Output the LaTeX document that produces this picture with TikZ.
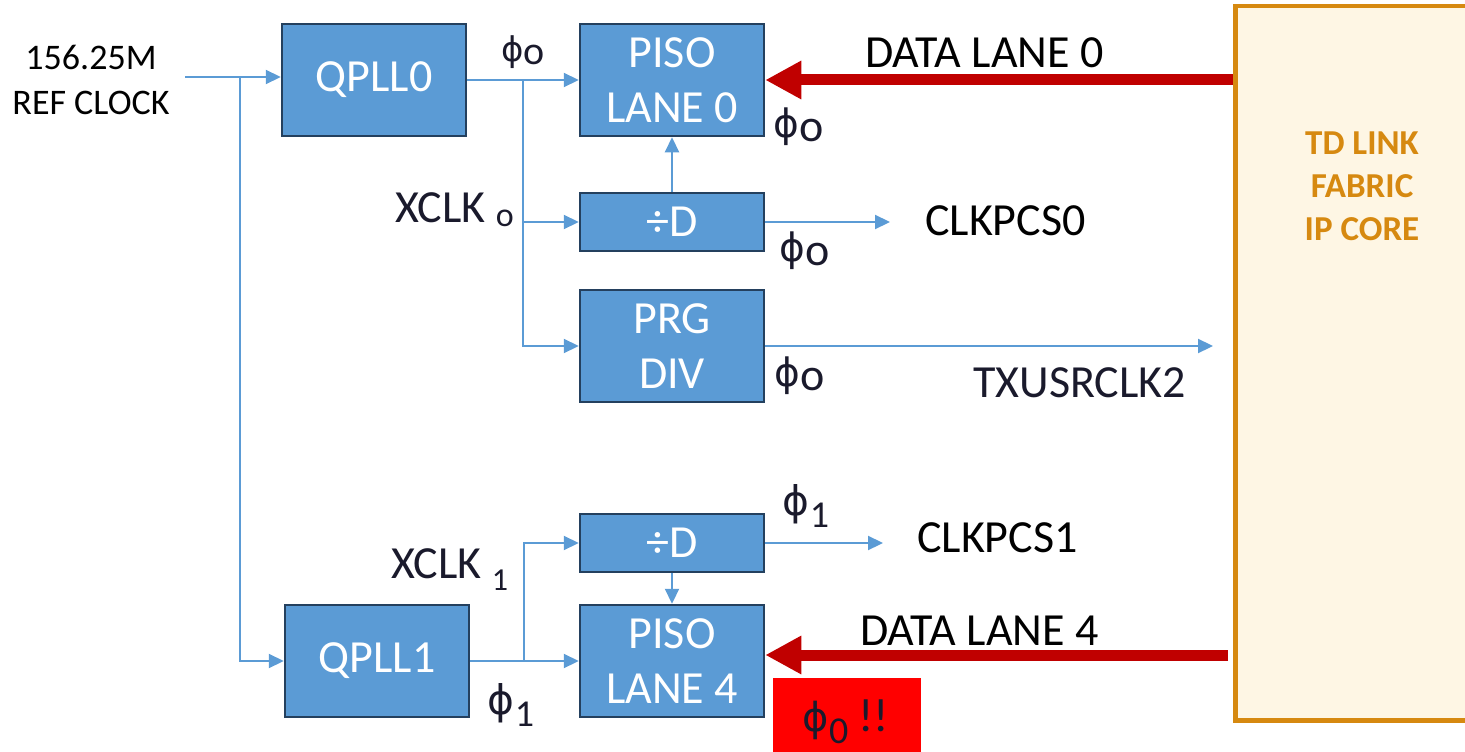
\documentclass[tikz,border=0pt]{standalone}
\usepackage{fontspec}
\setmainfont{Carlito}
\newfontfamily\phifont{DejaVu Sans}[Scale=0.85]
\usetikzlibrary{arrows.meta}
\definecolor{boxblue}{HTML}{5B9BD5}
\definecolor{boxedge}{HTML}{24405E}
\definecolor{wireblue}{HTML}{5B9BD5}
\definecolor{datared}{HTML}{C00000}
\definecolor{coreedge}{HTML}{D68910}
\definecolor{corefill}{HTML}{FEF6E4}
\definecolor{ink}{HTML}{1A1A2C}
\definecolor{alertred}{HTML}{FF0000}
\newcommand\fsz[2]{\fontsize{#1}{#2}\selectfont}
\newcommand\phig{{\phifont ϕ}}
\begin{document}
\begin{tikzpicture}[x=1pt,y=-1pt,
  blk/.style={draw=boxedge, line width=2.5pt, fill=boxblue, text=white,
    minimum width=184pt, align=center, inner sep=0pt, font=\fsz{46}{55}},
  tallblk/.style={blk, minimum height=112pt},
  shortblk/.style={blk, minimum height=58pt},
  wire/.style={draw=wireblue, line width=2.2pt, -{Triangle[length=15pt,width=14pt]}},
  dataarrow/.style={draw=datared, line width=11pt, -{Triangle[length=36pt,width=36pt]}},
  lbl/.style={inner sep=0pt, font=\fsz{46}{55}},
  phase/.style={inner sep=0pt, text=ink, font=\fsz{46}{46}},
  coretext/.style={inner sep=0pt, align=center, text=coreedge, font=\fsz{35}{43}\bfseries}
]
\useasboundingbox (0,0) rectangle (1465,752);

% IP core on the right, running off the edge
\node[draw=coreedge, fill=corefill, line width=4.5pt, minimum width=260pt,
      minimum height=714pt, anchor=north west, inner sep=0pt] (core) at (1233,4) {};
\node[coretext] (corelabel) at (1362,186) {TD LINK\\FABRIC\\IP CORE};

% blocks
\node[tallblk]  (qpll0) at (374,80)  {QPLL0};
\node[tallblk]  (piso0) at (672,80)  {PISO\\LANE 0};
\node[shortblk] (d0)    at (672,222) {÷D};
\node[tallblk]  (prg)   at (672,346) {PRG\\DIV};
\node[shortblk] (d1)    at (672,543) {÷D};
\node[tallblk]  (piso4) at (672,661) {PISO\\LANE 4};
\node[tallblk]  (qpll1) at (377,661) {QPLL1};

% reference clock distribution
\node[lbl, align=center, font=\fsz{36}{45}] (refclk) at (91,80) {156.25M\\REF CLOCK};
\coordinate (refin) at (185,77);
\coordinate (jref) at (240,77);
\draw[wire] (refin) -- (refin -| qpll0.west);
\draw[wire] (jref) |- (qpll1.west);

% lane 0 clocking
\coordinate (j0) at (523,80);
\draw[wire] (qpll0.east) -- (piso0.west);
\draw[wire] (j0) |- (d0.west);
\draw[wire] (j0) |- (prg.west);
\draw[wire] (d0.north) -- (piso0.south);
\coordinate (clk0end) at (890,222);
\draw[wire] (d0.east) -- (clk0end);
\coordinate (usrend) at (1213,346);
\draw[wire] (prg.east) -- (usrend);

% lane 4 clocking
\coordinate (j1) at (524,661);
\draw[wire] (qpll1.east) -- (piso4.west);
\draw[wire] (j1) |- (d1.west);
\draw[wire] (d1.south) -- (piso4.north);
\coordinate (clk1end) at (883,543);
\draw[wire] (d1.east) -- (clk1end);

% data from the fabric
\coordinate (d0src) at (1233,80);
\draw[dataarrow] (d0src) -- (piso0.east);
\coordinate (d4src) at (1228,655);
\draw[dataarrow] (d4src) -- (d4src -| piso4.east);

% signal names
\node[lbl, anchor=base west] (dl0) at (865,68) {DATA LANE 0};
\node[lbl, anchor=base west] (dl4) at (860,645) {DATA LANE 4};
\node[lbl, anchor=base west] (cp0) at (925,235) {CLKPCS0};
\node[lbl, anchor=base west] (cp1) at (917,552) {CLKPCS1};
\node[lbl, anchor=base west, text=ink] (usr) at (973,397) {TXUSRCLK2};
\node[lbl, anchor=base west, text=ink] (x0) at (395,222) {XCLK {\fsz{34}{34}\raisebox{-4pt}{o}}};
\node[lbl, anchor=base west, text=ink] (x1) at (391,578) {XCLK {\fsz{32}{32}\raisebox{-12pt}{1}}};

% phase labels
\node[phase, font=\fsz{40}{40}] (p0a) at (523,52) {\phig\raisebox{-3pt}{o}};
\node[phase] (p0b) at (799,127) {\phig\raisebox{-4pt}{o}};
\node[phase] (p0c) at (805,251) {\phig\raisebox{-4pt}{o}};
\node[phase] (p0d) at (800,376) {\phig\raisebox{-4pt}{o}};
\node[phase, font=\fsz{48}{48}] (p1a) at (806,506) {\phig{\fsz{38}{38}\raisebox{-12pt}{1}}};
\node[phase, font=\fsz{48}{48}] (p1b) at (511,705) {\phig{\fsz{38}{38}\raisebox{-12pt}{1}}};

% warning tag
\node[fill=alertred, minimum width=148pt, minimum height=74pt, anchor=north west, inner sep=0pt] (warn) at (773,678) {};
\node[phase, font=\fsz{47}{47}] (warntext) at (846,722) {\phig{\fsz{38}{38}\raisebox{-12pt}{0}}\hspace{10pt}!!};
\end{tikzpicture}
\end{document}
